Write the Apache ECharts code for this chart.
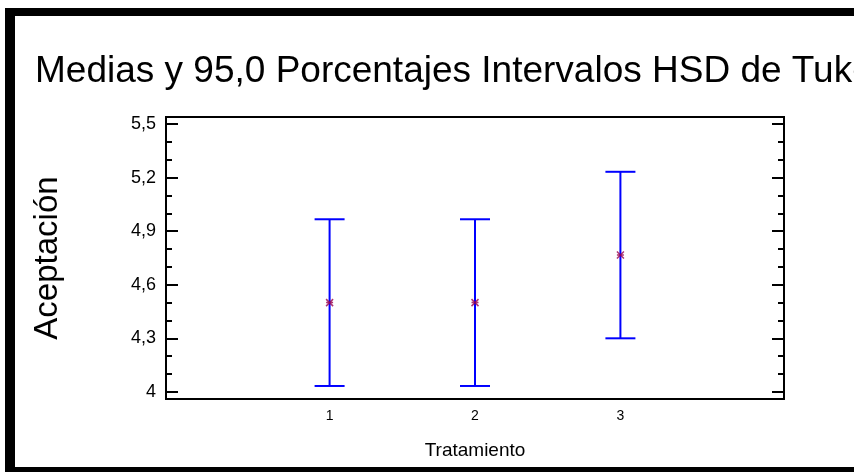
<!DOCTYPE html>
<html lang="es">
<head>
  <meta charset="UTF-8">
  <title>Medias y 95,0 Porcentajes Intervalos HSD de Tukey</title>
  <style>
    html, body { margin: 0; padding: 0; background: #fff; }
    #chart { width: 854px; height: 472px; }
  </style>
</head>
<body>
  <div id="chart"></div>
</body>
</html>
<script src="https://cdn.jsdelivr.net/npm/echarts@6/dist/echarts.min.js"></script>
<script type="text/javascript">
  // datos
  var categories = ['1', '2', '3'];
  var xPos = [1, 2, 3];
  var means = [4.5, 4.5, 4.767];
  var lower = [4.033, 4.033, 4.3];
  var upper = [4.967, 4.967, 5.233];
  var yTickValues = [4, 4.3, 4.6, 4.9, 5.2, 5.5];
  var yMinorValues = [4, 4.1, 4.2, 4.3, 4.4, 4.5, 4.6, 4.7, 4.8, 4.9, 5, 5.1, 5.2, 5.3, 5.4, 5.5];

  var font = 'Liberation Sans';
  var myChart = echarts.init(document.getElementById('chart'));

  function yAxisDef(pos, ticks, len, labels) {
    return {
      type: 'value',
      position: pos,
      offset: 0,
      min: 3.96,
      max: 5.54,
      splitLine: { show: false },
      axisLine: { show: true, onZero: false, lineStyle: { color: '#000', width: 2 } },
      axisTick: { show: true, inside: true, length: len, customValues: ticks,
        lineStyle: { color: '#000', width: 2 } },
      axisLabel: labels ? {
        show: true, customValues: yTickValues, margin: 10,
        color: '#000', fontFamily: font, fontSize: 18,
        formatter: function (v) { return String(v).replace('.', ','); }
      } : { show: false }
    };
  }

  var yAxes = [
    yAxisDef('left', yTickValues, 12, true),
    yAxisDef('left', yMinorValues, 6, false),
    yAxisDef('right', yTickValues, 12, false),
    yAxisDef('right', yMinorValues, 6, false)
  ];
  yAxes[0].name = 'Aceptación';
  yAxes[0].nameLocation = 'middle';
  yAxes[0].nameGap = 102;
  yAxes[0].nameTextStyle = { color: '#000', fontFamily: font, fontSize: 33 };

  var option = {
    animation: false,
    backgroundColor: '#fff',
    title: {
      text: 'Medias y 95,0 Porcentajes Intervalos HSD de Tukey',
      left: 35,
      top: 53,
      padding: 0,
      textStyle: { color: '#000', fontFamily: font, fontSize: 37, fontWeight: 'normal' }
    },
    grid: { left: 166, top: 117, right: 70, bottom: 73 },
    xAxis: [{
      type: 'value',
      position: 'bottom',
      offset: 0,
      min: -0.125,
      max: 4.125,
      splitLine: { show: false },
      axisLine: { show: true, onZero: false, lineStyle: { color: '#000', width: 2 } },
      axisTick: { show: false },
      axisLabel: {
        customValues: xPos, margin: 10, color: '#000', fontFamily: font, fontSize: 14,
        formatter: function (v) { return categories[xPos.indexOf(v)]; }
      },
      name: 'Tratamiento',
      nameLocation: 'middle',
      nameGap: 42,
      nameTextStyle: { color: '#000', fontFamily: font, fontSize: 19 }
    }, {
      type: 'value',
      position: 'top',
      offset: 0,
      min: -0.125,
      max: 4.125,
      splitLine: { show: false },
      axisLine: { show: true, onZero: false, lineStyle: { color: '#000', width: 2 } },
      axisTick: { show: false },
      axisLabel: { show: false }
    }],
    yAxis: yAxes,
    graphic: [
      { type: 'rect', shape: { x: 5, y: 8, width: 849, height: 8 }, style: { fill: '#000' } },
      { type: 'rect', shape: { x: 5, y: 8, width: 10, height: 464 }, style: { fill: '#000' } },
      { type: 'rect', shape: { x: 5, y: 467, width: 849, height: 5 }, style: { fill: '#000' } }
    ],
    series: [{
      type: 'custom',
      xAxisIndex: 0,
      yAxisIndex: 0,
      data: xPos.map(function (x, i) { return [x, lower[i], upper[i]]; }),
      renderItem: function (params, api) {
        var lo = api.coord([api.value(0), api.value(1)]);
        var hi = api.coord([api.value(0), api.value(2)]);
        var w = 15;
        var st = { stroke: '#0000ff', lineWidth: 2 };
        return {
          type: 'group',
          children: [
            { type: 'line', shape: { x1: lo[0], y1: lo[1], x2: hi[0], y2: hi[1] }, style: st },
            { type: 'line', shape: { x1: lo[0] - w, y1: lo[1], x2: lo[0] + w, y2: lo[1] }, style: st },
            { type: 'line', shape: { x1: hi[0] - w, y1: hi[1], x2: hi[0] + w, y2: hi[1] }, style: st }
          ]
        };
      },
      z: 2
    }, {
      type: 'scatter',
      xAxisIndex: 0,
      yAxisIndex: 0,
      symbol: 'path://M0,0L10,10M10,0L0,10M0,5L10,5',
      symbolSize: 7,
      itemStyle: { color: 'none', borderColor: '#99004d', borderWidth: 1.5 },
      data: xPos.map(function (x, i) { return [x, means[i]]; }),
      z: 3
    }]
  };
  myChart.setOption(option);
</script>
